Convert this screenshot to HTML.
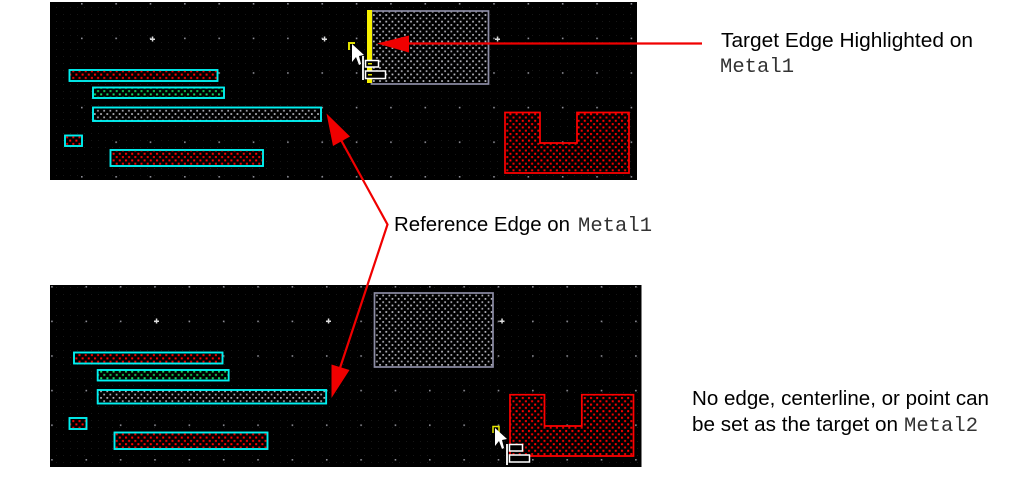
<!DOCTYPE html>
<html><head><meta charset="utf-8"><style>
html,body{margin:0;padding:0;background:#fff;width:1016px;height:478px;overflow:hidden}
svg{display:block}
.s{font-family:"Liberation Sans",sans-serif;font-size:20.5px;fill:#000}
.m{font-family:"Liberation Mono",monospace;font-size:20.5px;fill:#333}
</style></head><body>
<svg width="1016" height="478" viewBox="0 0 1016 478" xmlns="http://www.w3.org/2000/svg">
<defs>
<pattern id="g" width="6.2" height="6.6" patternUnits="userSpaceOnUse"><rect x="1" y="1" width="1.700" height="1.700" fill="#c0c0c8"/><rect x="4.1" y="4.300" width="1.700" height="1.700" fill="#acacb4"/></pattern>
<pattern id="r" width="6.2" height="6.6" patternUnits="userSpaceOnUse"><rect x="1" y="1" width="2" height="2" fill="#ff0000"/><rect x="4.1" y="4.300" width="2" height="2" fill="#f00000"/></pattern>
<pattern id="n" width="6.2" height="6.6" patternUnits="userSpaceOnUse"><rect x="1" y="1" width="2" height="2" fill="#10d860"/><rect x="4.1" y="4.300" width="2" height="2" fill="#10c050"/></pattern>
<pattern id="d1" width="34.35" height="34.6" patternUnits="userSpaceOnUse" x="81" y="3"><rect width="1.600" height="1.600" fill="#8c8c94"/></pattern>
<pattern id="d2" width="34.35" height="34.6" patternUnits="userSpaceOnUse" x="85.5" y="286"><rect width="1.600" height="1.600" fill="#8c8c94"/></pattern>
<pattern id="f" width="7" height="7" patternUnits="userSpaceOnUse"><rect width="1" height="1" fill="#161616"/></pattern>
</defs>

<!-- top panel -->
<rect x="50" y="2" width="587" height="178" fill="#000"/>
<rect x="50" y="2" width="587" height="178" fill="url(#f)"/>
<rect x="50" y="2" width="587" height="178" fill="url(#d1)"/>
<g fill="#ddd"><path d="M150 38.500h5v1.500h-5zM151.800 36.500h1.500v5h-1.500z"/><path d="M322 38.500h5v1.500h-5zM323.800 36.500h1.500v5h-1.500z"/><path d="M495 38.500h5v1.500h-5zM496.800 36.500h1.500v5h-1.500z"/></g>
<g stroke="#00f0f0" stroke-width="1.700">
<rect x="69.500" y="70" width="148" height="11" fill="#000"/><rect x="69.500" y="70" width="148" height="11" fill="url(#r)"/>
<rect x="93" y="87.500" width="131" height="10.500" fill="#000"/><rect x="93" y="87.500" width="131" height="10.500" fill="url(#n)"/>
<rect x="93" y="107.500" width="228" height="13.500" fill="#000"/><rect x="93" y="107.500" width="228" height="13.500" fill="url(#g)"/>
<rect x="65" y="135.500" width="17" height="10.500" fill="#000"/><rect x="65" y="135.500" width="17" height="10.500" fill="url(#r)"/>
<rect x="110.500" y="150" width="152.500" height="16" fill="#000"/><rect x="110.500" y="150" width="152.500" height="16" fill="url(#r)"/>
</g>
<rect x="371.500" y="11" width="117" height="73" fill="#000"/>
<rect x="371.500" y="11" width="117" height="73" fill="url(#g)" stroke="#8c8ca4" stroke-width="1.700"/>
<path d="M505 112.500H540V143H577V112.500H629V173H505Z" fill="#000"/>
<path d="M505 112.500H540V143H577V112.500H629V173H505Z" fill="url(#r)" stroke="#ff0000" stroke-width="1.700"/>
<rect x="367" y="10" width="5" height="73" fill="#f6f000"/>
<rect x="348" y="42" width="2" height="8" fill="#e0e000"/><rect x="350" y="42" width="5" height="2" fill="#e0e000"/>
<path d="M352 44V62L356 57L359 65L361 64L359 56L364 55Z" fill="#fff"/>
<rect x="362" y="56" width="2" height="24" fill="#e8e8e8"/>
<rect x="365.500" y="60.500" width="13" height="6.500" fill="#000" stroke="#fff" stroke-width="1.500"/>
<rect x="365.500" y="71" width="20" height="7.500" fill="#000" stroke="#fff" stroke-width="1.500"/>
<rect x="368" y="63" width="4" height="1.500" fill="#e0e000"/><rect x="368" y="74" width="4" height="1.500" fill="#e0e000"/>

<!-- bottom panel -->
<rect x="50" y="285" width="591.500" height="182" fill="#000"/>
<rect x="50" y="285" width="591.500" height="182" fill="url(#f)"/>
<rect x="50" y="285" width="591.500" height="182" fill="url(#d2)"/>
<g fill="#ddd"><path d="M154 320.500h5v1.500h-5zM155.800 318.500h1.500v5h-1.500z"/><path d="M326 320.500h5v1.500h-5zM327.800 318.500h1.500v5h-1.500z"/><path d="M499.500 320.500h5v1.500h-5zM501.300 318.500h1.500v5h-1.500z"/></g>
<g stroke="#00f0f0" stroke-width="1.700">
<rect x="74" y="352.500" width="148.500" height="11" fill="#000"/><rect x="74" y="352.500" width="148.500" height="11" fill="url(#r)"/>
<rect x="97.700" y="370" width="131" height="10.500" fill="#000"/><rect x="97.700" y="370" width="131" height="10.500" fill="url(#n)"/>
<rect x="97.700" y="390" width="228.500" height="13.500" fill="#000"/><rect x="97.700" y="390" width="228.500" height="13.500" fill="url(#g)"/>
<rect x="69.500" y="418" width="17" height="11" fill="#000"/><rect x="69.500" y="418" width="17" height="11" fill="url(#r)"/>
<rect x="114.500" y="432.500" width="153" height="16.500" fill="#000"/><rect x="114.500" y="432.500" width="153" height="16.500" fill="url(#r)"/>
</g>
<rect x="374.500" y="293" width="118.500" height="74" fill="#000"/>
<rect x="374.500" y="293" width="118.500" height="74" fill="url(#g)" stroke="#8c8ca4" stroke-width="1.700"/>
<path d="M510 394.700H544.500V426H581.800V394.700H633.500V456H510Z" fill="#000"/>
<path d="M510 394.700H544.500V426H581.800V394.700H633.500V456H510Z" fill="url(#r)" stroke="#ff0000" stroke-width="1.700"/>
<path d="M493 433V426.500H499V433" fill="none" stroke="#e8e800" stroke-width="1.500"/>
<path d="M495 428V446L499 441L502 449L504 448L502 440L507 439Z" fill="#fff"/>
<rect x="506" y="444" width="2" height="21" fill="#e8e8e8"/>
<rect x="509.500" y="444.500" width="13" height="6.500" fill="#000" stroke="#fff" stroke-width="1.500"/>
<rect x="509.500" y="455" width="20" height="7" fill="#000" stroke="#fff" stroke-width="1.500"/>

<!-- arrows -->
<g fill="none" stroke="#f00000" stroke-width="2.200">
<path d="M702 43.500H405"/>
<path d="M341 140L387.500 224.500L340 368"/>
</g>
<g fill="#f00000">
<path d="M377 43.500L409 35.500V52.500Z"/>
<path d="M326.500 113.500L333 146L350 136.500Z"/>
<path d="M331.500 398L331.500 364.500L349.500 370Z"/>
</g>

<!-- labels -->
<text class="s" x="721" y="47" textLength="252" lengthAdjust="spacingAndGlyphs">Target Edge Highlighted on</text>
<text class="m" x="720" y="72" textLength="74">Metal1</text>
<text class="s" x="394" y="231" textLength="176" lengthAdjust="spacingAndGlyphs">Reference Edge on</text>
<text class="m" x="578" y="231" textLength="74">Metal1</text>
<text class="s" x="692" y="405" textLength="297" lengthAdjust="spacingAndGlyphs">No edge, centerline, or point can</text>
<text class="s" x="692" y="431" textLength="206" lengthAdjust="spacingAndGlyphs">be set as the target on</text>
<text class="m" x="904" y="431" textLength="74">Metal2</text>
</svg>
</body></html>
